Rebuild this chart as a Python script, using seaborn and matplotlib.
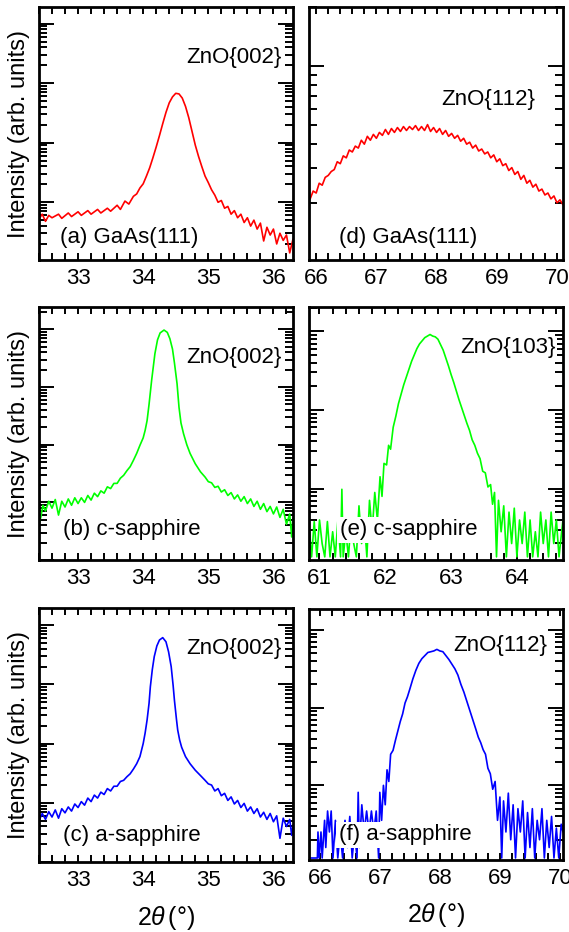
import matplotlib.pyplot as plt
import matplotlib.ticker as mticker
import numpy as np
import pandas as pd
import seaborn as sns

# XRD 2theta scans, intensity stored as log10(counts), arb. units
a_tth = [32.40, 32.45, 32.50, 32.55, 32.60, 32.70, 32.75, 32.85, 32.90, 33.00,
         33.05, 33.15, 33.20, 33.30, 33.35, 33.45, 33.50, 33.60, 33.65, 33.72,
         33.78, 33.85, 33.90, 33.95, 34.00, 34.05, 34.10, 34.15, 34.20, 34.25,
         34.30, 34.35, 34.40, 34.45, 34.50, 34.55, 34.60, 34.65, 34.70, 34.75,
         34.80, 34.85, 34.90, 34.95, 35.00, 35.05, 35.10, 35.15, 35.20, 35.25,
         35.30, 35.35, 35.40, 35.45, 35.50, 35.55, 35.60, 35.65, 35.70, 35.75,
         35.80, 35.85, 35.90, 35.95, 36.00, 36.05, 36.10, 36.15, 36.20, 36.25, 36.30]
a_logI = [0.72, 0.80, 0.68, 0.78, 0.74, 0.80, 0.73, 0.82, 0.76, 0.84,
          0.78, 0.86, 0.80, 0.88, 0.82, 0.90, 0.85, 0.95, 0.88, 1.02,
          0.97, 1.10, 1.14, 1.24, 1.31, 1.44, 1.58, 1.75, 1.93, 2.12,
          2.32, 2.51, 2.67, 2.77, 2.83, 2.82, 2.75, 2.61, 2.42, 2.19,
          1.96, 1.77, 1.60, 1.44, 1.33, 1.21, 1.12, 1.00, 1.03, 0.90,
          0.93, 0.80, 0.86, 0.74, 0.80, 0.66, 0.74, 0.60, 0.70, 0.55,
          0.65, 0.35, 0.58, 0.45, 0.55, 0.30, 0.48, 0.36, 0.45, 0.15, 0.38]

b_tth = [32.40, 32.43, 32.46, 32.50, 32.55, 32.60, 32.65, 32.70, 32.75, 32.80,
         32.85, 32.90, 32.95, 33.00, 33.05, 33.10, 33.15, 33.20, 33.25, 33.30,
         33.35, 33.40, 33.45, 33.50, 33.55, 33.60, 33.65, 33.70, 33.75, 33.80,
         33.85, 33.90, 33.95, 34.00, 34.03, 34.06, 34.09, 34.13, 34.18, 34.22,
         34.26, 34.32, 34.37, 34.41, 34.45, 34.48, 34.52, 34.55, 34.58, 34.62,
         34.67, 34.72, 34.80, 34.88, 34.95, 35.00, 35.05, 35.10, 35.15, 35.20,
         35.25, 35.30, 35.35, 35.40, 35.45, 35.50, 35.55, 35.60, 35.65, 35.70,
         35.75, 35.80, 35.85, 35.90, 35.95, 36.00, 36.05, 36.10, 36.15, 36.20,
         36.25, 36.28, 36.30]
b_logI = [0.62, 0.75, 0.95, 0.85, 1.02, 0.90, 1.05, 0.78, 1.02, 0.92,
          1.06, 0.95, 1.08, 0.98, 1.08, 1.00, 1.12, 1.04, 1.16, 1.10,
          1.20, 1.16, 1.27, 1.24, 1.33, 1.33, 1.42, 1.47, 1.55, 1.62,
          1.73, 1.85, 1.99, 2.12, 2.25, 2.42, 2.70, 3.12, 3.58, 3.82,
          3.94, 3.99, 3.95, 3.84, 3.66, 3.42, 3.06, 2.65, 2.38, 2.19,
          2.00, 1.85, 1.67, 1.53, 1.44, 1.36, 1.34, 1.26, 1.28, 1.18,
          1.22, 1.12, 1.17, 1.06, 1.13, 1.02, 1.10, 0.98, 1.06, 0.93,
          1.02, 0.88, 0.98, 0.84, 0.93, 0.80, 0.92, 0.74, 0.88, 0.62,
          0.80, 0.40, 0.72]

c_tth = [32.40, 32.45, 32.50, 32.55, 32.60, 32.65, 32.70, 32.75, 32.80, 32.85,
         32.90, 32.95, 33.00, 33.05, 33.10, 33.15, 33.20, 33.25, 33.30, 33.35,
         33.40, 33.45, 33.50, 33.55, 33.60, 33.65, 33.70, 33.75, 33.80, 33.85,
         33.90, 33.95, 34.00, 34.03, 34.06, 34.09, 34.11, 34.14, 34.17, 34.21,
         34.25, 34.30, 34.35, 34.39, 34.43, 34.46, 34.48, 34.51, 34.53, 34.56,
         34.59, 34.65, 34.72, 34.80, 34.88, 34.95, 35.00, 35.05, 35.10, 35.15,
         35.20, 35.25, 35.30, 35.35, 35.40, 35.45, 35.50, 35.55, 35.60, 35.65,
         35.70, 35.75, 35.80, 35.85, 35.90, 35.95, 36.00, 36.05, 36.10, 36.15,
         36.20, 36.25, 36.28, 36.30]
c_logI = [0.70, 0.82, 0.72, 0.85, 0.76, 0.88, 0.74, 0.90, 0.83, 0.93,
          0.86, 0.98, 0.92, 1.02, 0.96, 1.08, 1.02, 1.13, 1.08, 1.18,
          1.14, 1.24, 1.20, 1.28, 1.28, 1.36, 1.38, 1.44, 1.49, 1.57,
          1.66, 1.78, 2.00, 2.18, 2.40, 2.68, 2.96, 3.25, 3.47, 3.65,
          3.75, 3.79, 3.72, 3.55, 3.30, 2.98, 2.73, 2.42, 2.23, 2.06,
          1.94, 1.78, 1.66, 1.55, 1.46, 1.38, 1.32, 1.30, 1.20, 1.24,
          1.12, 1.16, 1.04, 1.10, 0.98, 1.04, 0.92, 0.99, 0.86, 0.93,
          0.82, 0.90, 0.76, 0.84, 0.72, 0.82, 0.68, 0.78, 0.40, 0.74,
          0.60, 0.72, 0.45, 0.62]

d_tth = [65.90, 65.95, 66.00, 66.05, 66.10, 66.15, 66.20, 66.25, 66.30, 66.35,
         66.40, 66.45, 66.50, 66.55, 66.60, 66.65, 66.70, 66.75, 66.80, 66.85,
         66.90, 66.95, 67.00, 67.05, 67.10, 67.15, 67.20, 67.25, 67.30, 67.35,
         67.40, 67.45, 67.50, 67.55, 67.60, 67.65, 67.70, 67.75, 67.80, 67.85,
         67.90, 67.95, 68.00, 68.05, 68.10, 68.15, 68.20, 68.25, 68.30, 68.35,
         68.40, 68.45, 68.50, 68.55, 68.60, 68.65, 68.70, 68.75, 68.80, 68.85,
         68.90, 68.95, 69.00, 69.05, 69.10, 69.15, 69.20, 69.25, 69.30, 69.35,
         69.40, 69.45, 69.50, 69.55, 69.60, 69.65, 69.70, 69.75, 69.80, 69.85,
         69.90, 69.95, 70.00, 70.05, 70.10]
d_logI = [2.32, 2.36, 2.35, 2.40, 2.39, 2.43, 2.44, 2.46, 2.47, 2.51,
          2.50, 2.54, 2.53, 2.57, 2.56, 2.59, 2.58, 2.62, 2.60, 2.64,
          2.62, 2.65, 2.63, 2.66, 2.645, 2.675, 2.65, 2.68, 2.66, 2.685,
          2.665, 2.69, 2.67, 2.69, 2.675, 2.695, 2.67, 2.69, 2.67, 2.70,
          2.665, 2.685, 2.66, 2.68, 2.65, 2.67, 2.64, 2.655, 2.63, 2.645,
          2.615, 2.63, 2.60, 2.61, 2.58, 2.595, 2.565, 2.575, 2.55, 2.56,
          2.53, 2.545, 2.51, 2.525, 2.49, 2.50, 2.465, 2.48, 2.445, 2.46,
          2.42, 2.44, 2.40, 2.415, 2.38, 2.395, 2.36, 2.37, 2.34, 2.35,
          2.32, 2.335, 2.30, 2.315, 2.29]

e_tth = [60.85, 60.88, 60.92, 60.96, 61.00, 61.04, 61.08, 61.12, 61.16, 61.20,
         61.24, 61.28, 61.32, 61.34, 61.36, 61.40, 61.44, 61.48, 61.52, 61.56,
         61.60, 61.64, 61.68, 61.72, 61.76, 61.80, 61.84, 61.88, 61.92, 61.95,
         61.98, 62.02, 62.05, 62.08, 62.12, 62.16, 62.20, 62.24, 62.28, 62.32,
         62.36, 62.40, 62.44, 62.48, 62.52, 62.56, 62.60, 62.64, 62.68, 62.72,
         62.76, 62.80, 62.84, 62.88, 62.92, 62.96, 63.00, 63.04, 63.08, 63.12,
         63.16, 63.20, 63.24, 63.28, 63.32, 63.36, 63.40, 63.44, 63.48, 63.52,
         63.56, 63.60, 63.63, 63.66, 63.69, 63.72, 63.76, 63.80, 63.84, 63.88,
         63.92, 63.96, 64.00, 64.04, 64.08, 64.12, 64.16, 64.20, 64.24, 64.28,
         64.32, 64.36, 64.40, 64.44, 64.48, 64.52, 64.56, 64.60, 64.64, 64.68, 64.70]
e_logI = [0.45, 0.13, 0.58, 0.13, 0.60, 0.30, 0.13, 0.58, 0.13, 0.45,
          0.13, 0.60, 0.13, 0.99, 0.13, 0.45, 0.13, 0.60, 0.30, 0.13,
          0.78, 0.30, 0.60, 0.13, 0.85, 0.45, 0.95, 0.60, 1.15, 0.90,
          1.32, 1.30, 1.55, 1.50, 1.78, 1.92, 2.08, 2.20, 2.32, 2.42,
          2.52, 2.62, 2.70, 2.78, 2.84, 2.88, 2.92, 2.94, 2.96, 2.94,
          2.93, 2.90, 2.83, 2.76, 2.66, 2.56, 2.45, 2.35, 2.24, 2.13,
          2.03, 1.93, 1.83, 1.74, 1.62, 1.55, 1.45, 1.38, 1.22, 1.20,
          1.02, 1.05, 0.80, 0.95, 0.13, 0.85, 0.45, 0.78, 0.13, 0.70,
          0.30, 0.75, 0.13, 0.60, 0.30, 0.70, 0.13, 0.60, 0.13, 0.45,
          0.13, 0.70, 0.30, 0.60, 0.13, 0.70, 0.30, 0.60, 0.13, 0.45, 0.60]

f_tth = [65.82, 65.90, 65.96, 65.97, 65.99, 66.02, 66.04, 66.08, 66.10, 66.13,
         66.16, 66.19, 66.22, 66.26, 66.30, 66.34, 66.38, 66.42, 66.46, 66.50,
         66.54, 66.58, 66.62, 66.64, 66.66, 66.70, 66.74, 66.78, 66.82, 66.86,
         66.90, 66.94, 66.98, 67.00, 67.03, 67.06, 67.09, 67.12, 67.15, 67.18,
         67.22, 67.26, 67.30, 67.34, 67.38, 67.42, 67.46, 67.50, 67.55, 67.60,
         67.65, 67.70, 67.75, 67.80, 67.85, 67.90, 67.95, 68.00, 68.05, 68.10,
         68.15, 68.20, 68.25, 68.30, 68.35, 68.40, 68.45, 68.50, 68.55, 68.60,
         68.64, 68.68, 68.72, 68.76, 68.80, 68.84, 68.88, 68.92, 68.96, 69.00,
         69.03, 69.06, 69.10, 69.14, 69.18, 69.22, 69.26, 69.30, 69.34, 69.38,
         69.42, 69.46, 69.50, 69.54, 69.58, 69.62, 69.66, 69.70, 69.74, 69.78,
         69.82, 69.86, 69.90, 69.94, 69.98, 70.02, 70.05]
f_logI = [0.065, 0.065, 0.065, 0.40, 0.065, 0.40, 0.065, 0.55, 0.20, 0.67,
          0.40, 0.67, 0.065, 0.55, 0.065, 0.40, 0.065, 0.55, 0.20, 0.60,
          0.065, 0.40, 0.065, 0.91, 0.20, 0.75, 0.40, 0.67, 0.40, 0.67,
          0.40, 0.67, 0.065, 0.91, 0.55, 1.00, 0.75, 1.20, 1.05, 1.40,
          1.45, 1.58, 1.70, 1.82, 1.92, 2.06, 2.14, 2.24, 2.37, 2.48,
          2.57, 2.63, 2.67, 2.71, 2.72, 2.73, 2.75, 2.73, 2.72, 2.67,
          2.62, 2.56, 2.50, 2.42, 2.30, 2.20, 2.08, 1.96, 1.84, 1.72,
          1.62, 1.55, 1.46, 1.40, 1.22, 1.15, 0.95, 1.05, 0.55, 0.85,
          0.065, 0.80, 0.40, 0.90, 0.30, 0.75, 0.065, 0.70, 0.40, 0.80,
          0.065, 0.65, 0.20, 0.70, 0.065, 0.55, 0.30, 0.70, 0.065, 0.55,
          0.20, 0.60, 0.065, 0.45, 0.065, 0.50, 0.40]

panel_tags = ['(a) GaAs(111)', '(b) c-sapphire', '(c) a-sapphire',
              '(d) GaAs(111)', '(e) c-sapphire', '(f) a-sapphire']
peak_names = ['ZnO{002}', 'ZnO{002}', 'ZnO{002}', 'ZnO{112}', 'ZnO{103}', 'ZnO{112}']
xlims = [(32.4, 36.3), (32.4, 36.3), (32.4, 36.3), (65.88, 70.1), (60.84, 64.7), (65.82, 70.05)]
ylims_log = [(0.03, 4.28), (0.0, 4.39), (0.0, 4.29), (2.007, 3.302), (0.09, 3.31), (0.04, 3.27)]
xticks = [[33, 34, 35, 36], [33, 34, 35, 36], [33, 34, 35, 36],
          [66, 67, 68, 69, 70], [61, 62, 63, 64], [66, 67, 68, 69, 70]]

sns.set_style('ticks')
plt.rcParams.update({
    'font.family': ['Liberation Sans', 'DejaVu Sans'],
    'font.size': 16,
    'axes.linewidth': 2.0,
    'axes.edgecolor': 'black',
    'axes.labelcolor': 'black',
    'xtick.color': 'black',
    'ytick.color': 'black',
    'text.color': 'black',
    'mathtext.fontset': 'custom',
    'mathtext.rm': 'Liberation Sans',
    'mathtext.it': 'Liberation Sans:italic',
})

fig = plt.figure(figsize=(5.69, 9.32), dpi=100)

# axes boxes in figure fractions (left, bottom, width, height)
boxes = [
    (0.0685, 0.7210, 0.4464, 0.2715),
    (0.0685, 0.3991, 0.4464, 0.2715),
    (0.0685, 0.0751, 0.4464, 0.2725),
    (0.5430, 0.7210, 0.4464, 0.2715),
    (0.5430, 0.3991, 0.4464, 0.2715),
    (0.5430, 0.0773, 0.4464, 0.2693),
]
series = [(a_tth, a_logI, '#ff0000'), (b_tth, b_logI, '#00ff00'), (c_tth, c_logI, '#0000ff'),
          (d_tth, d_logI, '#ff0000'), (e_tth, e_logI, '#00ff00'), (f_tth, f_logI, '#0000ff')]
# text anchor positions (axes fraction)
name_pos = [(0.957, 0.80), (0.957, 0.80), (0.957, 0.84), (0.89, 0.635), (0.97, 0.84), (0.94, 0.855)]
tag_pos = [(0.083, 0.09), (0.095, 0.12), (0.095, 0.106), (0.118, 0.09), (0.122, 0.12), (0.118, 0.10)]

for i, (tth, logI, color) in enumerate(series):
    ax = fig.add_axes(boxes[i])
    df = pd.DataFrame({'tth': tth, 'I': 10 ** np.array(logI)})
    sns.lineplot(data=df, x='tth', y='I', ax=ax, color=color, lw=1.2,
                 estimator=None, sort=False, zorder=2)
    ax.set_yscale('log')
    ax.set_xlim(*xlims[i])
    ax.set_ylim(10 ** ylims_log[i][0], 10 ** ylims_log[i][1])

    ax.set_xticks(xticks[i])
    ax.xaxis.set_minor_locator(mticker.MultipleLocator(0.2))
    ax.yaxis.set_major_locator(mticker.LogLocator(base=10, numticks=20))
    ax.yaxis.set_minor_locator(mticker.LogLocator(base=10, subs=np.arange(2, 10), numticks=20))
    ax.yaxis.set_major_formatter(mticker.NullFormatter())
    ax.yaxis.set_minor_formatter(mticker.NullFormatter())
    ax.tick_params(which='both', direction='in', top=True, right=True, width=1.4)
    ax.tick_params(axis='x', which='both', length=5, pad=6, labelsize=16)
    ax.tick_params(axis='y', which='major', length=10.5)
    ax.tick_params(axis='y', which='minor', length=5.5)

    ax.set_xlabel('')
    ax.set_ylabel('')
    if i < 3:
        ax.set_ylabel('Intensity (arb. units)', fontsize=17)
        ax.yaxis.set_label_coords(-0.035, 0.5)
    if i in (2, 5):
        ax.set_xlabel(r'2$\mathit{\theta}\,$(°)', fontsize=18)
        ax.xaxis.set_label_coords(0.5, -0.165)

    ax.text(*name_pos[i], peak_names[i], transform=ax.transAxes, ha='right', va='center',
            fontsize=16, zorder=3,
            bbox=dict(facecolor='white', edgecolor='none', pad=1))
    ax.text(*tag_pos[i], panel_tags[i], transform=ax.transAxes, ha='left', va='center',
            fontsize=16, zorder=3,
            bbox=dict(facecolor='white', edgecolor='none', pad=2))

fig.savefig('out.png', dpi=100)
